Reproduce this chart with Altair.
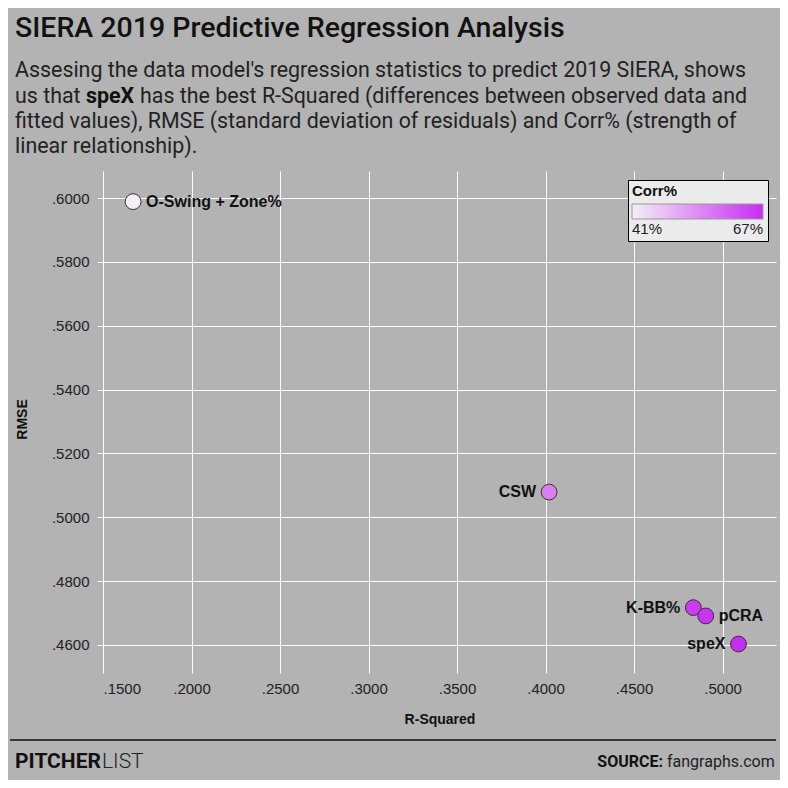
import altair as alt
import pandas as pd

# ---------------- data ----------------
metrics = ["O-Swing + Zone%", "CSW", "K-BB%", "pCRA", "speX"]
r_squared = [0.1670, 0.4020, 0.4835, 0.4905, 0.5090]
rmse = [0.5989, 0.5079, 0.4717, 0.4691, 0.4603]
corr = [0.41, 0.56, 0.65, 0.66, 0.67]

x_ticks = [0.15, 0.20, 0.25, 0.30, 0.35, 0.40, 0.45, 0.50]
y_ticks = [0.46, 0.48, 0.50, 0.52, 0.54, 0.56, 0.58, 0.60]
legend_values = [0.41, 0.67]

df = pd.DataFrame({"Metric": metrics, "r2": r_squared, "rmse": rmse, "corr": corr})

# ---------------- layout ----------------
OX, OY = 103, 171          # page position of plot origin
W, H = 673, 496
HEAD = "Roboto, Liberation Sans, sans-serif"
BODY = "Liberation Sans, Arial, sans-serif"


def txt(text, x, y, size, weight="normal", align="left", font=HEAD, color="#111"):
    return alt.Chart(pd.DataFrame({"t": [text]})).mark_text(
        align=align, baseline="alphabetic", fontSize=size, fontWeight=weight,
        font=font, color=color
    ).encode(x=alt.value(x - OX), y=alt.value(y - OY), text="t:N")


base = alt.Chart(df)

points = base.mark_circle(size=250, stroke="#333333", strokeWidth=1, opacity=1).encode(
    x=alt.X("r2:Q",
            scale=alt.Scale(domain=[0.15, 0.5302], nice=False, zero=False),
            axis=alt.Axis(values=x_ticks, labelExpr="substring(format(datum.value, '.4f'), 1)",
                          title="R-Squared", grid=True, gridColor="white", gridOpacity=1,
                          tickColor="white", tickSize=6, domain=False,
                          labelFontSize=15, labelColor="#222", labelFont=BODY,
                          labelPadding=8, titleFontSize=14, titleFont=BODY,
                          titleFontWeight="bold", titleColor="#111", titlePadding=16)),
    y=alt.Y("rmse:Q",
            scale=alt.Scale(domain=[0.4531, 0.6085], nice=False, zero=False),
            axis=alt.Axis(values=y_ticks, labelExpr="substring(format(datum.value, '.4f'), 1)",
                          title="RMSE", grid=True, gridColor="white", gridOpacity=1,
                          tickColor="white", tickSize=6, domain=False,
                          labelFontSize=15, labelColor="#222", labelFont=BODY,
                          labelPadding=8, titleFontSize=14, titleFont=BODY,
                          titleFontWeight="bold", titleColor="#111", titlePadding=22)),
    color=alt.Color("corr:Q",
                    scale=alt.Scale(domain=[0.41, 0.67], range=["#f3eff5", "#c72cf2"],
                                    interpolate="rgb"),
                    legend=alt.Legend(title="Corr%", orient="none", legendX=628 - OX,
                                      legendY=180 - OY, direction="horizontal",
                                      gradientLength=131, gradientThickness=15,
                                      gradientStrokeColor="#999", gradientStrokeWidth=1,
                                      values=legend_values, format=".0%",
                                      padding=4, fillColor="#ebebeb", strokeColor="black",
                                      titleFontSize=15, titleFont=BODY, titleColor="#111",
                                      titleFontWeight="bold", titlePadding=5,
                                      labelFontSize=15, labelFont=BODY, labelColor="#222",
                                      labelOffset=3)),
)

right_names = ["O-Swing + Zone%", "pCRA"]
labels_right = base.transform_filter(
    alt.FieldOneOfPredicate(field="Metric", oneOf=right_names)
).mark_text(align="left", baseline="middle", dx=13, fontSize=16, fontWeight="bold",
            font=BODY, color="#111").encode(x="r2:Q", y="rmse:Q", text="Metric:N")

labels_left = base.transform_filter(
    ~alt.FieldOneOfPredicate(field="Metric", oneOf=right_names)
).mark_text(align="right", baseline="middle", dx=-13, fontSize=16, fontWeight="bold",
            font=BODY, color="#111").encode(x="r2:Q", y="rmse:Q", text="Metric:N")

title = txt("SIERA 2019 Predictive Regression Analysis", 15, 37, 28.5, weight=500)
s1 = txt("Assesing the data model's regression statistics to predict 2019 SIERA, shows", 15, 77, 21.4, color="#222")
s2a = txt("us that", 15, 103, 21.4, color="#222")
s2b = txt("speX", 86, 103, 21.4, weight="bold", color="#111")
s2c = txt("has the best R-Squared (differences between observed data and", 140, 103, 21.4, color="#222")
s3 = txt("fitted values), RMSE (standard deviation of residuals) and Corr% (strength of", 15, 128, 21.4, color="#222")
s4 = txt("linear relationship).", 15, 153, 21.4, color="#222")

rule = alt.Chart(pd.DataFrame({"a": [0]})).mark_rule(color="#111", strokeWidth=1.5).encode(
    x=alt.value(10 - OX), x2=alt.value(776 - OX), y=alt.value(740 - OY))

f1 = txt("PITCHER", 15, 768, 21, weight="bold")
f2 = txt("LIST", 102, 768, 21, weight=300, color="#222")
f3 = txt("SOURCE:", 663, 767, 16, weight="bold", align="right")
f4 = txt("fangraphs.com", 667, 767, 16, color="#222")

chart = alt.layer(
    points, labels_right, labels_left,
    title, s1, s2a, s2b, s2c, s3, s4, rule, f1, f2, f3, f4
).properties(
    width=W, height=H,
    background="#b3b3b3",
    autosize=alt.AutoSizeParams(type="none"),
    padding={"left": OX - 8, "top": OY - 8, "right": 4, "bottom": 772 - (OY - 8) - H},
).configure_view(stroke=None)

chart.save("out.html", embed_options={"renderer": "svg", "actions": False})
